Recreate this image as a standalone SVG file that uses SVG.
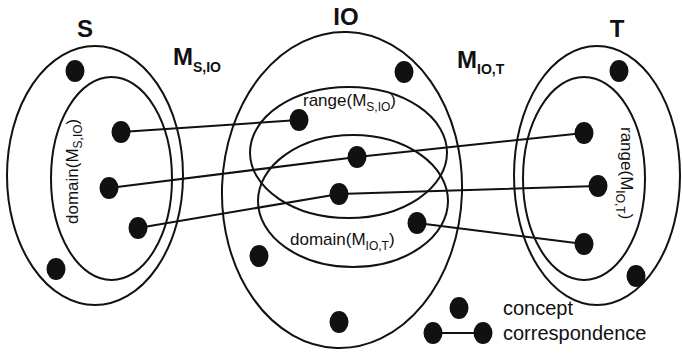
<svg xmlns="http://www.w3.org/2000/svg" width="682" height="353" viewBox="0 0 682 353">
<style>
.set{fill:none;stroke:#111;stroke-width:2}
.dot{fill:#111}
.edge{stroke:#111;stroke-width:2;fill:none}
.lbl{font-family:"Liberation Sans",Arial,sans-serif;fill:#111}
.big{font-size:24px;font-weight:bold}
.sb{font-size:14px;font-weight:bold}
.sm{font-size:17px}
.ss{font-size:12px}
.leg{font-size:20px}
</style>
<rect width="682" height="353" fill="#fff"/>
<g id="connectors">
<line class="edge" x1="121" y1="132" x2="299" y2="120"/>
<polyline class="edge" points="109,188 357,157 584,133"/>
<polyline class="edge" points="138,228 339,194 598,186"/>
<line class="edge" x1="417" y1="223" x2="584" y2="244"/>
<line class="edge" x1="433" y1="333" x2="483" y2="333"/>
</g>
<g id="S">
<ellipse class="set" cx="95" cy="175.5" rx="88" ry="129.5"/>
<ellipse class="set" cx="111.5" cy="178.5" rx="60.5" ry="101.5"/>
<text class="lbl big" x="85" y="37" text-anchor="middle">S</text>
<text class="lbl sm" transform="translate(78,224) rotate(-90)">domain(M<tspan class="ss" dy="4">S,IO</tspan><tspan dy="-4">)</tspan></text>
<ellipse class="dot" cx="75" cy="71" rx="9.5" ry="11"/>
<ellipse class="dot" cx="121" cy="132" rx="9.5" ry="11"/>
<ellipse class="dot" cx="109" cy="188" rx="9.5" ry="11"/>
<ellipse class="dot" cx="138" cy="228" rx="9.5" ry="11"/>
<ellipse class="dot" cx="56" cy="269" rx="9.5" ry="11"/>
</g>
<g id="M_S_IO">
<text class="lbl big" x="173" y="65">M<tspan class="sb" dy="7">S,IO</tspan></text>
</g>
<g id="IO">
<ellipse class="set" cx="342" cy="190" rx="120" ry="158" transform="rotate(2 342 190)"/>
<ellipse class="set" cx="348.5" cy="152.5" rx="98.5" ry="65.5"/>
<ellipse class="set" cx="353" cy="201" rx="95" ry="66"/>
<text class="lbl big" x="346" y="25" text-anchor="middle">IO</text>
<text class="lbl sm" x="303" y="106">range(M<tspan class="ss" dy="5">S,IO</tspan><tspan dy="-5">)</tspan></text>
<text class="lbl sm" x="290" y="245">domain(M<tspan class="ss" dy="5">IO,T</tspan><tspan dy="-5">)</tspan></text>
<ellipse class="dot" cx="404" cy="72" rx="9.5" ry="11"/>
<ellipse class="dot" cx="299" cy="120" rx="9.5" ry="11"/>
<ellipse class="dot" cx="357" cy="157" rx="9.5" ry="11"/>
<ellipse class="dot" cx="339" cy="194" rx="9.5" ry="11"/>
<ellipse class="dot" cx="417" cy="223" rx="9.5" ry="11"/>
<ellipse class="dot" cx="259" cy="256" rx="9.5" ry="11"/>
<ellipse class="dot" cx="339" cy="322" rx="9.5" ry="11"/>
</g>
<g id="M_IO_T">
<text class="lbl big" x="457" y="68">M<tspan class="sb" dy="6">IO,T</tspan></text>
</g>
<g id="T">
<ellipse class="set" cx="597" cy="175.5" rx="83" ry="129.5"/>
<ellipse class="set" cx="584" cy="178.5" rx="61" ry="101.5"/>
<text class="lbl big" x="617" y="37" text-anchor="middle">T</text>
<text class="lbl sm" transform="translate(621,127) rotate(90)">range(M<tspan class="ss" dy="5">IO,T</tspan><tspan dy="-5">)</tspan></text>
<ellipse class="dot" cx="619" cy="71" rx="9.5" ry="11"/>
<ellipse class="dot" cx="584" cy="133" rx="9.5" ry="11"/>
<ellipse class="dot" cx="598" cy="186" rx="9.5" ry="11"/>
<ellipse class="dot" cx="584" cy="244" rx="9.5" ry="11"/>
<ellipse class="dot" cx="636" cy="276" rx="9.5" ry="11"/>
</g>
<g id="legend">
<ellipse class="dot" cx="459" cy="308" rx="9.5" ry="11"/>
<ellipse class="dot" cx="433" cy="333" rx="9.5" ry="11"/>
<ellipse class="dot" cx="483" cy="333" rx="9.5" ry="11"/>
<text class="lbl leg" x="503" y="315">concept</text>
<text class="lbl leg" x="503" y="340">correspondence</text>
</g>
</svg>
